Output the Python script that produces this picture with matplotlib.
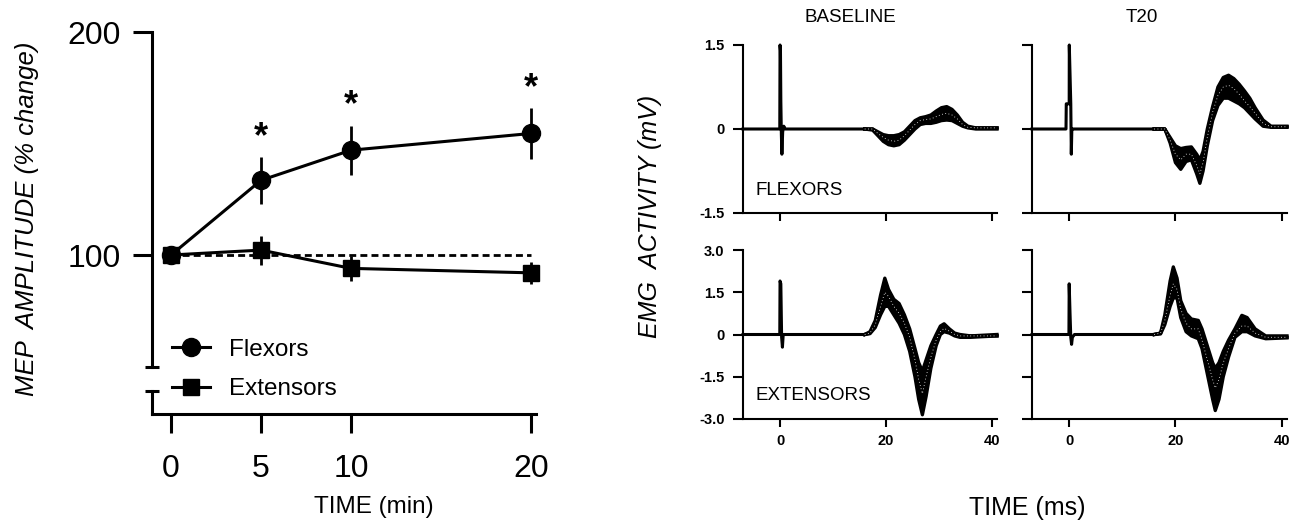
import matplotlib
matplotlib.use("Agg")
import matplotlib.pyplot as plt
from matplotlib.lines import Line2D

plt.rcParams['font.family'] = ['Liberation Sans', 'DejaVu Sans']

# ---------------- Left panel data ----------------
time_min = [0, 5, 10, 20]
flexors_mean = [100, 133.5, 147.0, 154.5]
flexors_err = [0, 10.5, 11.0, 11.5]
extensors_mean = [100, 102.2, 94.0, 92.0]
extensors_err = [0, 6.5, 5.5, 5.0]
signif_times = [5, 10, 20]
y_ticks_left = [100, 200]
x_ticks_left = [0, 5, 10, 20]

# ---------------- Right panels data (EMG, mV vs ms) ----------------
# stimulus artefacts
art_t_bf = [-7, -0.05, 0, 0.08, 0.15, 0.25, 0.35, 0.5, 0.7, 1.0, 16]
art_v_bf = [0, 0, 1.5, 1.4, 0.5, -0.1, -0.45, -0.05, 0.05, 0, 0]
art_t_tf = [-7, -0.6, -0.55, -0.5, 0.0, 0.02, 0.3, 0.4, 0.5, 0.8, 16]
art_v_tf = [0, 0, 0.45, 0.45, 0.45, 1.5, 0.45, -0.45, 0, 0, 0]
art_t_be = [-7, -0.05, 0, 0.15, 0.3, 0.45, 0.6, 1.0, 16]
art_v_be = [0, 0, 1.9, 1.8, -0.1, -0.45, 0, 0, 0]
art_t_te = [-7, -0.05, 0, 0.15, 0.3, 0.45, 0.6, 1.0, 16]
art_v_te = [0, 0, 1.8, 0.8, -0.1, -0.35, -0.1, 0, 0]

# MEP sweeps (upper, middle, lower)
mep_t_bf = [16, 17.5, 18.5, 19.5, 20.5, 21.5, 22.5, 23.5, 24.5, 25.5, 26.5,
            27.5, 28.5, 29.5, 30.5, 31.5, 32.5, 33.5, 34.5, 35.5, 37, 41]
bf_high = [0, 0, -0.05, -0.1, -0.12, -0.12, -0.1, -0.05, 0.05, 0.15, 0.2,
           0.22, 0.25, 0.32, 0.38, 0.4, 0.35, 0.25, 0.12, 0.05, 0.02, 0.02]
bf_mid = [0, 0, -0.08, -0.15, -0.2, -0.22, -0.2, -0.12, -0.02, 0.08, 0.15,
          0.17, 0.18, 0.22, 0.26, 0.28, 0.25, 0.18, 0.08, 0.03, 0.02, 0.02]
bf_low = [0, -0.02, -0.12, -0.22, -0.28, -0.3, -0.28, -0.2, -0.1, 0.0, 0.08,
          0.1, 0.1, 0.12, 0.15, 0.16, 0.15, 0.1, 0.05, 0.02, 0.0, 0.0]

mep_t_tf = [16, 18, 19, 20, 21, 22, 23, 24, 24.6, 25.2, 26, 27, 28, 29, 30,
            31, 32, 33, 34, 35, 36.5, 38, 41]
tf_high = [0, 0, -0.15, -0.3, -0.35, -0.33, -0.32, -0.45, -0.55, -0.4, 0.0,
           0.4, 0.75, 0.92, 0.96, 0.9, 0.8, 0.68, 0.55, 0.38, 0.16, 0.05, 0.05]
tf_mid = [0, 0, -0.2, -0.45, -0.55, -0.45, -0.45, -0.65, -0.8, -0.6, -0.15,
          0.3, 0.6, 0.75, 0.78, 0.72, 0.62, 0.5, 0.4, 0.28, 0.1, 0.04, 0.04]
tf_low = [0, 0, -0.25, -0.6, -0.72, -0.58, -0.55, -0.8, -0.97, -0.75, -0.3,
          0.15, 0.42, 0.55, 0.55, 0.5, 0.45, 0.38, 0.28, 0.18, 0.05, 0.03, 0.03]

mep_t_be = [16, 17, 18, 19, 19.8, 20.5, 21.5, 22.5, 23.5, 24.5, 25.5, 26.2,
            26.9, 27.6, 28.5, 29.5, 30.3, 31, 32, 33, 34, 36, 41]
be_high = [0, 0.1, 0.5, 1.4, 2.0, 1.6, 1.25, 1.1, 0.7, 0.2, -0.5, -1.0,
           -1.3, -0.9, -0.4, 0.0, 0.3, 0.38, 0.2, 0.05, 0.0, -0.05, 0.0]
be_mid = [0, 0.05, 0.35, 1.0, 1.5, 1.35, 1.0, 0.75, 0.4, -0.1, -0.9, -1.6,
          -2.1, -1.5, -0.8, -0.2, 0.1, 0.22, 0.12, 0.0, -0.05, -0.05, -0.05]
be_low = [0, 0.03, 0.25, 0.7, 1.0, 1.0, 0.7, 0.4, 0.0, -0.6, -1.5, -2.3,
          -2.85, -2.2, -1.2, -0.4, 0.0, 0.1, 0.05, -0.05, -0.1, -0.1, -0.05]

mep_t_te = [16, 17.2, 18, 19, 19.6, 20.3, 21, 22, 23, 24.3, 25, 26, 27, 27.5,
            28.2, 29, 30, 31.2, 32.5, 33.5, 35, 37, 41]
te_high = [0, 0.05, 0.7, 1.9, 2.4, 2.0, 1.2, 0.75, 0.55, 0.5, 0.2, -0.4, -1.0,
           -1.2, -1.0, -0.6, -0.2, 0.2, 0.68, 0.6, 0.2, -0.05, -0.05]
te_mid = [0, 0.05, 0.5, 1.4, 1.8, 1.6, 0.9, 0.4, 0.2, 0.2, -0.2, -0.9, -1.6,
          -1.9, -1.6, -1.0, -0.5, 0.05, 0.3, 0.3, 0.05, -0.1, -0.1]
te_low = [0, 0.02, 0.35, 1.0, 1.3, 1.3, 0.6, 0.1, -0.05, -0.15, -0.5, -1.4,
          -2.3, -2.7, -2.3, -1.5, -0.8, -0.1, 0.1, 0.1, -0.05, -0.15, -0.12]

flex_yticks = [-1.5, 0, 1.5]
flex_yticklabels = ["-1.5", "0", "1.5"]
ext_yticks = [-3.0, -1.5, 0, 1.5, 3.0]
ext_yticklabels = ["-3.0", "-1.5", "0", "1.5", "3.0"]
ms_ticks = [0, 20, 40]

W, H = 1291, 524
fig = plt.figure(figsize=(W / 100, H / 100), dpi=100)

# ---------------- Left panel ----------------
ax = fig.add_axes([152 / W, 1 - 414 / H, 384 / W, 382 / H])
ax.set_xlim(-1.06, 20.28)
ax.set_ylim(28.7, 200)
ax.plot([time_min[0], time_min[-1]], [100, 100], linestyle=(0, (2.5, 1.5)),
        color='black', lw=2.0, zorder=1)
ax.errorbar(time_min, flexors_mean, yerr=flexors_err, fmt='none',
            ecolor='black', elinewidth=2.0, capsize=0, zorder=2, clip_on=False)
ax.errorbar(time_min, extensors_mean, yerr=extensors_err, fmt='none',
            ecolor='black', elinewidth=2.0, capsize=0, zorder=2, clip_on=False)
ax.plot(time_min, flexors_mean, color='black', lw=2.2, marker='o',
        markersize=13, label='Flexors', zorder=3, clip_on=False)
ax.plot(time_min, extensors_mean, color='black', lw=2.2, marker='s',
        markersize=12, label='Extensors', zorder=4, clip_on=False)
for t in signif_times:
    i = time_min.index(t)
    ax.text(t, flexors_mean[i] + flexors_err[i] + 4.5, '*', ha='center',
            va='baseline', fontsize=26, fontweight='bold')

for s in ['top', 'right']:
    ax.spines[s].set_visible(False)
for s in ['left', 'bottom']:
    ax.spines[s].set_linewidth(2.2)
ax.spines['left'].set_bounds(50, 200)
ax.set_yticks(y_ticks_left)
ax.set_xticks(x_ticks_left)
ax.tick_params(axis='both', direction='out', length=13.7, width=2.2,
               labelsize=23)
ax.tick_params(axis='y', pad=9)
ax.tick_params(axis='x', pad=15)
# broken axis pieces
tr = ax.get_yaxis_transform()
cap = 7 / 384
lower_top = 39.0
for yv in [50, lower_top]:
    ax.add_line(Line2D([-cap, cap], [yv, yv], transform=tr, color='black',
                       lw=2.2, clip_on=False, solid_capstyle='butt'))
ax.add_line(Line2D([0, 0], [28.7, lower_top], transform=tr, color='black',
                   lw=2.2, clip_on=False, solid_capstyle='projecting'))

leg = ax.legend(loc='upper left', bbox_to_anchor=(0.052, 0.197), frameon=False,
                fontsize=17.5, handlelength=1.56, handletextpad=0.8,
                labelspacing=0.72, borderpad=0, borderaxespad=0)

fig.text(27 / W, 1 - 219 / H, 'MEP  AMPLITUDE (% change)', rotation=90,
         style='italic', fontsize=18.5, ha='center', va='center')
fig.text(374 / W, 1 - 507 / H, 'TIME (min)', fontsize=17.5, ha='center',
         va='center')

# ---------------- Right panels ----------------
def emg_panel(rect, art_t, art_v, mep_t, sweeps, ylim, yticks, yticklabels,
              show_ylabels, show_xlabels):
    a = fig.add_axes(rect)
    a.set_xlim(-7, 41)
    a.set_ylim(*ylim)
    a.plot(art_t, art_v, color='black', lw=2.2, clip_on=False)
    a.fill_between(mep_t, sweeps[0], sweeps[-1], color='black', lw=0)
    for sw in sweeps:
        a.plot(mep_t, sw, color='black', lw=2.4, clip_on=False)
    a.plot(mep_t, sweeps[1], color='white', lw=0.6, ls=(0, (1, 3)))
    for s in ['top', 'right']:
        a.spines[s].set_visible(False)
    for s in ['left', 'bottom']:
        a.spines[s].set_linewidth(1.5)
    a.set_yticks(yticks)
    a.set_xticks(ms_ticks)
    a.tick_params(axis='y', direction='out', length=7.2, width=1.5, pad=6,
                  labelsize=10.5)
    a.tick_params(axis='x', direction='out', length=6, width=1.5, pad=5,
                  labelsize=10.5)
    if show_ylabels:
        a.set_yticklabels(yticklabels, fontweight='bold')
    else:
        a.set_yticklabels([])
    if show_xlabels:
        a.set_xticklabels([str(v) for v in ms_ticks], fontweight='bold')
    else:
        a.set_xticklabels([])
    return a

top_b, top_h = 1 - 213 / H, 168 / H
bot_b, bot_h = 1 - 419 / H, 169 / H
col1_l, col1_w = 743 / W, 254 / W
col2_l, col2_w = 1032 / W, 255 / W

a1 = emg_panel([col1_l, top_b, col1_w, top_h], art_t_bf, art_v_bf, mep_t_bf,
               [bf_high, bf_mid, bf_low], (-1.5, 1.5), flex_yticks,
               flex_yticklabels, True, False)
a2 = emg_panel([col2_l, top_b, col2_w, top_h], art_t_tf, art_v_tf, mep_t_tf,
               [tf_high, tf_mid, tf_low], (-1.5, 1.5), flex_yticks,
               flex_yticklabels, False, False)
a3 = emg_panel([col1_l, bot_b, col1_w, bot_h], art_t_be, art_v_be, mep_t_be,
               [be_high, be_mid, be_low], (-3.0, 3.0), ext_yticks,
               ext_yticklabels, True, True)
a4 = emg_panel([col2_l, bot_b, col2_w, bot_h], art_t_te, art_v_te, mep_t_te,
               [te_high, te_mid, te_low], (-3.0, 3.0), ext_yticks,
               ext_yticklabels, False, True)

a1.text(-4.7, -1.09, 'FLEXORS', fontsize=13.5, ha='left', va='center')
a3.text(-4.7, -2.18, 'EXTENSORS', fontsize=13.5, ha='left', va='center')

fig.text(850 / W, 1 - 18 / H, 'BASELINE', fontsize=13.5, ha='center',
         va='center')
fig.text(1142 / W, 1 - 18 / H, 'T20', fontsize=13.5, ha='center', va='center')
fig.text(650 / W, 1 - 216 / H, 'EMG  ACTIVITY (mV)', rotation=90,
         style='italic', fontsize=18, ha='center', va='center')
fig.text(1027 / W, 1 - 508 / H, 'TIME (ms)', fontsize=18, ha='center',
         va='center')

fig.savefig('out.png', dpi=100)
